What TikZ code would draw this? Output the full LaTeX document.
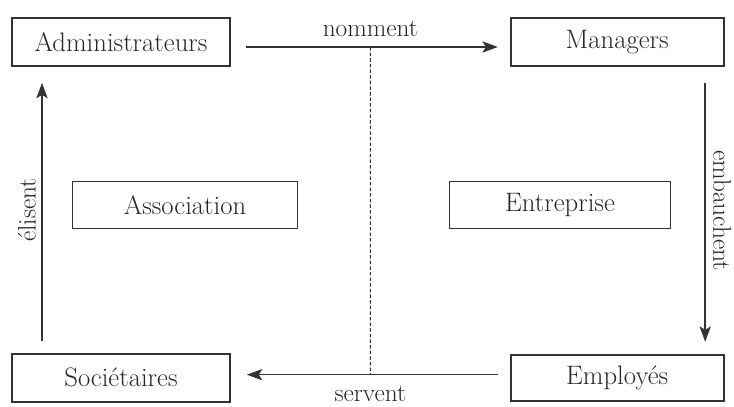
\documentclass[tikz,border=0pt]{standalone}
\usepackage{fontspec}
\usetikzlibrary{positioning,calc}
\usetikzlibrary{arrows.meta}
\colorlet{lineGray}{black!80}
\colorlet{textGray}{black!85}
\tikzset{%
  % Specifications for style of nodes:
    >={Stealth[length=11pt,width=8pt,inset=2.5pt]},
    baseBox/.style = {rectangle,draw=lineGray,line width=1.2pt,inner sep=0pt,text=textGray,font=\fontsize{19}{22}\selectfont},
    actorBox/.style = {baseBox,minimum width=5.45cm, minimum height=1.2cm},
    kindBox/.style = {baseBox,minimum width=5.55cm, minimum height=1.175cm},
    relArrow/.style = {->,draw=lineGray,line width=1.1pt},
    relLabel/.style = {inner sep=0pt,text=textGray,font=\fontsize{18}{20}\selectfont},
}

\begin{document}
\begin{tikzpicture}
	\useasboundingbox (0,0) rectangle (18.35,10.15);

	\node [actorBox] (admin) at (3.025,9.1) {Administrateurs};
	\node [actorBox, minimum width=5.325cm, right=6.975cm of admin] (managers) {Managers};
	\node [actorBox, below=7.15cm of admin] (societaires) {Sociétaires};
	\node [actorBox, minimum width=5.325cm, minimum height=1.15cm] (employes) at (managers |- societaires) {Employés};

	\node [kindBox, minimum width=5.625cm] (association) at (4.625,5.025) {Association};
	\node [kindBox, minimum width=5.525cm] (entreprise) at (14.0,5.025) {Entreprise};

	\draw[relArrow, shorten <=0.375cm, shorten >=0.3cm] ([yshift=-0.125cm]admin.east) -- ([yshift=-0.125cm]managers.west)
		coordinate[midway] (nommentMid) node[relLabel, midway, above=0.25cm] {nomment};
	\draw[relArrow, shorten <=0.3cm, shorten >=0.4cm] ([yshift=0.075cm]employes.west) -- ([yshift=0.075cm]societaires.east)
		coordinate[midway] (serventMid) node[relLabel, midway, below=0.27cm] {servent};
	\draw[relArrow, shorten <=0.3cm, shorten >=0.4cm] ([xshift=-1.975cm]societaires.north) -- ([xshift=-1.975cm]admin.south)
		node[relLabel, midway, xshift=-0.375cm, rotate=90] {élisent};
	\draw[relArrow, shorten <=0.4cm, shorten >=0.3cm] ([xshift=2.2cm]managers.south) -- ([xshift=2.2cm]employes.north)
		node[relLabel, midway, xshift=0.42cm, rotate=-90] {embauchent};

	\draw[lineGray, line width=0.7pt, dash pattern=on 2.5pt off 1.5pt] (nommentMid) -- (serventMid);

\end{tikzpicture}
\end{document}
